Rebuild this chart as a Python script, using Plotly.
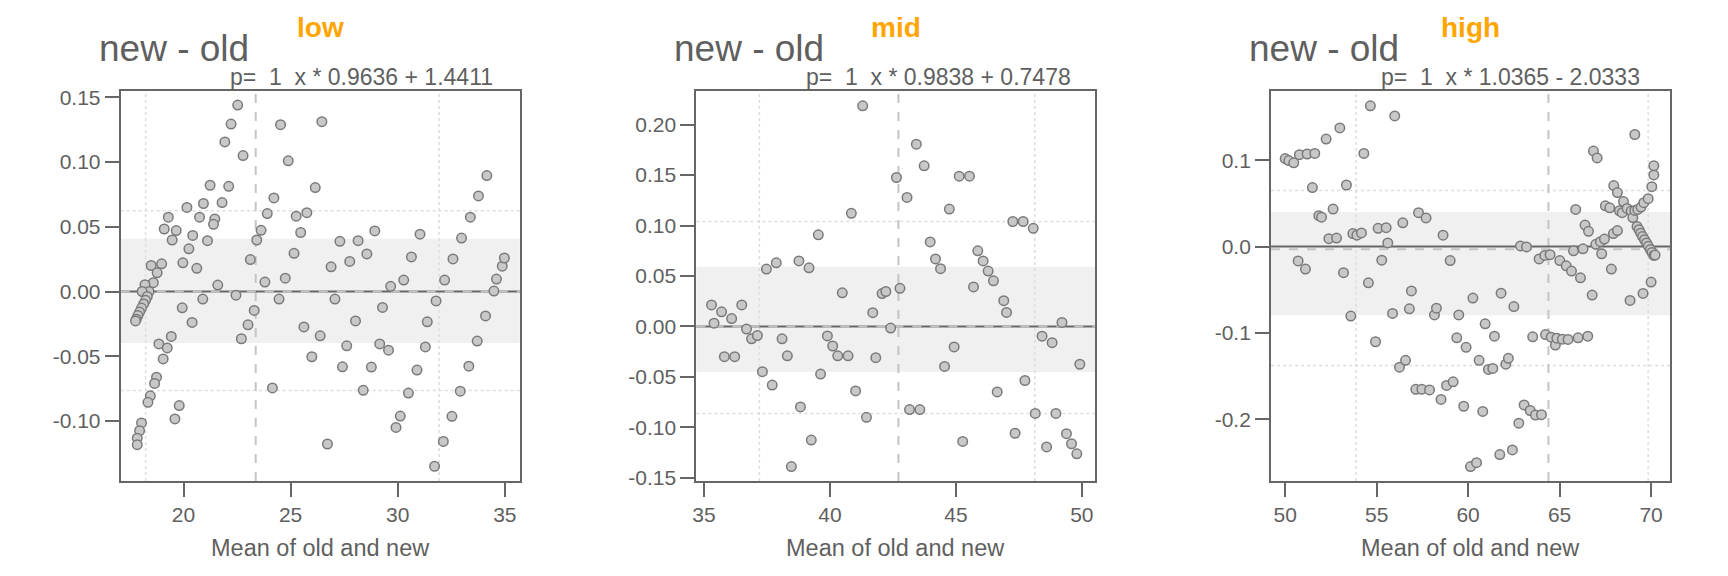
import plotly.graph_objects as go

# data (Bland-Altman style panels)
low_x = [22.53, 22.22, 21.93, 22.78, 24.53, 26.46, 24.89, 21.24, 22.11, 21.80,
         20.93, 20.16, 20.75, 21.46, 21.40, 19.29, 19.10, 19.66, 19.47, 20.43,
         20.25, 21.12, 19.97, 20.62, 21.60, 20.90, 19.94, 20.40, 18.49, 18.98,
         18.77, 18.59, 18.20, 18.39, 18.07, 18.31, 18.23, 18.14, 18.04, 17.95,
         17.87, 17.80, 17.76, 19.43, 18.85, 19.24, 19.05, 18.74, 18.65, 18.45,
         18.34, 18.04, 17.95, 17.84, 17.84, 19.80, 19.60, 22.45, 23.12, 23.30,
         23.01, 22.70, 23.42, 23.62, 23.91, 24.22, 23.80, 24.15, 24.46, 24.75,
         25.16, 25.26, 25.47, 25.76, 26.15, 25.62, 25.99, 26.38, 26.72, 26.89,
         27.07, 27.30, 27.76, 28.15, 28.56, 28.93, 28.03, 27.62, 27.42, 28.39,
         28.77, 29.16, 29.57, 29.29, 29.67, 30.28, 29.92, 30.12, 30.50, 30.90,
         30.64, 31.04, 31.29, 31.38, 31.79, 31.72, 32.13, 32.19, 32.53, 32.58,
         32.92, 32.98, 33.32, 33.39, 33.71, 33.77, 34.16, 34.10, 34.49, 34.61,
         34.88, 34.98]
low_y = [0.144, 0.1294, 0.1156, 0.105, 0.1289, 0.1312, 0.101, 0.0821, 0.0813, 0.0687,
         0.068, 0.065, 0.0574, 0.0561, 0.0519, 0.0574, 0.0483, 0.0471, 0.0398, 0.0433,
         0.033, 0.0393, 0.0222, 0.0179, 0.005, -0.0058, -0.0126, -0.0239, 0.0201, 0.0214,
         0.0144, 0.0068, 0.0053, 0.0, 0.0, -0.0038, -0.0068, -0.0096, -0.0128, -0.0159,
         -0.0186, -0.0214, -0.0227, -0.0347, -0.0405, -0.0436, -0.0521, -0.0662, -0.071, -0.0806,
         -0.0856, -0.1015, -0.1075, -0.1133, -0.1183, -0.0881, -0.0984, -0.0028, 0.0247, -0.0146,
         -0.0257, -0.0365, 0.0398, 0.0473, 0.0602, 0.0723, 0.0073, -0.0745, -0.0058, 0.0103,
         0.0295, 0.0582, 0.0456, 0.0609, 0.0803, -0.0274, -0.0504, -0.0342, -0.1178, 0.0191,
         -0.0058, 0.0388, 0.0232, 0.0393, 0.029, 0.0468, -0.0227, -0.042, -0.0582, -0.0763,
         -0.0584, -0.0405, -0.0453, -0.0123, 0.004, 0.0088, -0.105, -0.0962, -0.0785, -0.0607,
         0.0267, 0.0443, -0.0428, -0.0234, -0.0073, -0.135, -0.1158, 0.0088, -0.0964, 0.0252,
         -0.077, 0.0413, -0.0577, 0.0574, -0.0383, 0.0738, 0.0896, -0.0189, 0.0003, 0.0096,
         0.0196, 0.0259]

mid_x = [35.30, 35.40, 35.70, 36.10, 36.50, 35.81, 36.22, 36.69, 36.89, 37.12,
         37.32, 37.71, 37.48, 37.87, 38.10, 38.31, 38.47, 38.83, 38.77, 39.17,
         39.26, 39.54, 39.63, 39.90, 40.11, 40.31, 40.72, 40.49, 40.85, 41.02,
         41.30, 41.45, 41.70, 41.82, 42.07, 42.22, 42.41, 42.64, 42.78, 43.06,
         43.16, 43.57, 43.43, 43.74, 43.98, 44.19, 44.39, 44.55, 44.74, 44.93,
         45.13, 45.54, 45.27, 45.70, 45.87, 46.08, 46.28, 46.49, 46.64, 46.90,
         47.01, 47.26, 47.67, 48.07, 47.35, 47.74, 48.15, 48.42, 48.82, 48.97,
         48.60, 49.21, 49.39, 49.59, 49.80, 49.92]
mid_y = [0.0213, 0.0032, 0.0145, 0.0078, 0.0213, -0.030, -0.030, -0.0026, -0.0123, -0.009,
         -0.0449, -0.0581, 0.0568, 0.063, -0.0123, -0.0291, -0.1389, -0.0798, 0.0649, 0.0581,
         -0.1127, 0.0908, -0.0472, -0.0094, -0.0194, -0.0291, -0.0291, 0.0333, 0.1121, -0.064,
         0.2187, -0.0901, 0.0136, -0.031, 0.0326, 0.0346, -0.0016, 0.1476, 0.0378, 0.1279,
         -0.0824, -0.0824, 0.1806, 0.1592, 0.0837, 0.0669, 0.0572, -0.0397, 0.1163, -0.0203,
         0.1489, 0.1489, -0.114, 0.0391, 0.0749, 0.0649, 0.0549, 0.0452, -0.0649, 0.0255,
         0.0139, 0.104, 0.104, 0.0972, -0.1059, -0.0536, -0.0862, -0.0097, -0.0161, -0.0862,
         -0.1195, 0.0039, -0.1063, -0.1163, -0.1263, -0.0375]

high_x = [50.00, 50.20, 50.47, 50.78, 51.20, 51.62, 52.24, 52.99, 54.30, 54.66,
          55.99, 51.49, 53.35, 51.84, 51.99, 52.62, 52.39, 52.81, 53.70, 53.92,
          54.17, 50.71, 51.11, 53.19, 53.59, 54.55, 54.94, 55.08, 55.52, 55.61,
          55.28, 55.87, 56.43, 56.25, 56.58, 56.90, 56.79, 57.29, 57.70, 57.14,
          57.47, 57.89, 58.52, 58.16, 58.27, 58.63, 58.82, 59.18, 59.02, 59.38,
          59.49, 59.76, 59.89, 60.26, 60.13, 60.46, 60.60, 60.80, 60.93, 61.11,
          61.35, 61.44, 61.73, 61.80, 62.06, 62.20, 62.42, 62.50, 62.77, 62.86,
          63.19, 63.06, 63.39, 63.68, 64.01, 63.53, 63.88, 64.19, 64.48, 64.23,
          64.54, 64.77, 64.85, 65.15, 65.46, 66.01, 66.54, 65.01, 65.36, 65.65,
          66.14, 65.76, 66.28, 65.88, 66.39, 66.58, 66.78, 66.85, 67.05, 66.98,
          67.23, 67.45, 67.30, 67.50, 67.74, 67.83, 67.94, 68.16, 67.96, 68.16,
          68.27, 68.49, 68.42, 68.69, 68.85, 68.91, 69.00, 69.11, 69.11, 69.27,
          69.45, 69.60, 69.84, 69.23, 69.34, 69.43, 69.53, 69.64, 69.75, 69.85,
          69.96, 70.05, 70.15, 70.22, 69.56, 70.00, 70.04, 70.15, 70.15]
high_y = [0.1019, 0.0996, 0.097, 0.1064, 0.1072, 0.1079, 0.1245, 0.1374, 0.1079, 0.163,
          0.1513, 0.0683, 0.0713, 0.0358, 0.034, 0.0434, 0.0091, 0.0098, 0.0151, 0.0132,
          0.0158, -0.0166, -0.026, -0.0302, -0.0804, -0.0419, -0.1102, 0.0211, 0.0219, 0.0042,
          -0.0158, -0.0774, 0.0275, -0.1396, -0.1317, -0.0513, -0.0721, 0.0392, 0.0332, -0.1653,
          -0.1653, -0.166, -0.177, -0.0792, -0.0713, 0.0132, -0.1608, -0.1566, -0.0162, -0.1057,
          -0.0792, -0.1849, -0.1166, -0.0596, -0.2547, -0.2502, -0.1317, -0.1909, -0.0894, -0.1423,
          -0.1411, -0.1038, -0.2408, -0.054, -0.1362, -0.1294, -0.2355, -0.0694, -0.2045, 0.0008,
          -0.0004, -0.1834, -0.1898, -0.1951, -0.1947, -0.1045, -0.0143, -0.0102, -0.0094, -0.1019,
          -0.1049, -0.114, -0.106, -0.1072, -0.1075, -0.1057, -0.1038, -0.0162, -0.0223, -0.0283,
          -0.0362, -0.0049, -0.0026, 0.043, 0.0249, 0.0177, -0.0562, 0.1106, 0.1026, 0.0026,
          0.0057, 0.0087, -0.0083, 0.0472, 0.0449, -0.026, 0.0151, 0.0185, 0.0706, 0.0626,
          0.0415, 0.0521, 0.0392, 0.0442, -0.0623, 0.0411, 0.0336, 0.1298, 0.0419, 0.043,
          0.0457, 0.0509, 0.0555, 0.0234, 0.0196, 0.0155, 0.0117, 0.0079, 0.0042, 0.0004,
          -0.0034, -0.0068, -0.0102, -0.0098, -0.0543, -0.0411, 0.0694, 0.083, 0.0936]

panel_titles = ["low", "mid", "high"]
fit_labels = ["p=  1  x * 0.9636 + 1.4411",
              "p=  1  x * 0.9838 + 0.7478",
              "p=  1  x * 1.0365 - 2.0333"]

# reference lines per panel
band_lo = [-0.0398, -0.0452, -0.0796]
band_hi = [0.0408, 0.0591, 0.040]
limit_lo = [-0.0765, -0.0862, -0.1377]
limit_hi = [0.0624, 0.104, 0.0649]
x_q_lo = [18.23, 37.20, 53.88]
x_q_hi = [31.93, 48.13, 69.84]
x_median = [23.37, 42.72, 64.39]
mean_diff = [0.0, 0.0, -0.003]

x_ticks = [[20, 25, 30, 35], [35, 40, 45, 50], [50, 55, 60, 65, 70]]
y_ticks = [[-0.10, -0.05, 0.0, 0.05, 0.10, 0.15],
           [-0.15, -0.10, -0.05, 0.0, 0.05, 0.10, 0.15, 0.20],
           [-0.2, -0.1, 0.0, 0.1]]
y_tick_text = [["-0.10", "-0.05", "0.00", "0.05", "0.10", "0.15"],
               ["-0.15", "-0.10", "-0.05", "0.00", "0.05", "0.10", "0.15", "0.20"],
               ["-0.2", "-0.1", "0.0", "0.1"]]

x_ranges = [[17.07, 35.70], [34.70, 50.54], [49.23, 71.04]]
y_ranges = [[-0.1463, 0.1548], [-0.1531, 0.2332], [-0.2713, 0.18]]

# page has an 8px body margin, so the figure is drawn inside it
OFF = 8
W, H = 1728 - 2 * OFF, 576 - 2 * OFF
left_px = [117, 694, 1270]
plot_w = 400
top_px, bottom_px = 88, 487


def px_x(p):
    return (p - OFF) / W


def px_y(p):
    return 1 - (p - OFF) / H


AX = "#666666"
TXT = "#5f5f5f"

fig = go.Figure()
xs = [low_x, mid_x, high_x]
ys = [low_y, mid_y, high_y]

for i in range(3):
    n = "" if i == 0 else str(i + 1)
    fig.add_trace(
        go.Scatter(
            x=xs[i], y=ys[i], mode="markers",
            xaxis="x" + n, yaxis="y" + n,
            marker=dict(size=9.5, color="#c8c8c8",
                        line=dict(color="#7a7a7a", width=1.5)),
            showlegend=False, hoverinfo="skip",
        )
    )
    fig.layout["xaxis" + n] = dict(
        domain=[px_x(left_px[i]), px_x(left_px[i] + plot_w)], anchor="y" + n,
        range=x_ranges[i], tickvals=x_ticks[i],
        ticks="outside", ticklen=14, tickwidth=2, tickcolor=AX,
        showline=True, linecolor=AX, linewidth=2, mirror=True,
        showgrid=False, zeroline=False,
        tickfont=dict(size=21, color=TXT),
    )
    fig.layout["yaxis" + n] = dict(
        domain=[px_y(bottom_px), px_y(top_px)], anchor="x" + n,
        range=y_ranges[i], tickvals=y_ticks[i], ticktext=y_tick_text[i],
        ticks="outside", ticklen=14, tickwidth=2, tickcolor=AX,
        showline=True, linecolor=AX, linewidth=2, mirror=True,
        showgrid=False, zeroline=False,
        tickfont=dict(size=21, color=TXT),
    )

    xr, yr = "x" + n, "y" + n
    # grey band
    fig.add_shape(type="rect", xref=xr + " domain", yref=yr, x0=0, x1=1,
                  y0=band_lo[i], y1=band_hi[i], fillcolor="#f0f0f0",
                  line=dict(width=0), layer="below")
    # dotted limit lines
    for v in (limit_lo[i], limit_hi[i]):
        fig.add_shape(type="line", xref=xr + " domain", yref=yr, x0=0, x1=1,
                      y0=v, y1=v, line=dict(color="#dddddd", width=1.5, dash="dot"),
                      layer="below")
    for v in (x_q_lo[i], x_q_hi[i]):
        fig.add_shape(type="line", xref=xr, yref=yr + " domain", x0=v, x1=v,
                      y0=0, y1=1, line=dict(color="#dddddd", width=1.5, dash="dot"),
                      layer="below")
    fig.add_shape(type="line", xref=xr, yref=yr + " domain", x0=x_median[i],
                  x1=x_median[i], y0=0, y1=1,
                  line=dict(color="#c4c4c4", width=2, dash="dash"), layer="below")
    # zero line and mean difference
    fig.add_shape(type="line", xref=xr + " domain", yref=yr, x0=0, x1=1,
                  y0=0, y1=0, line=dict(color="#666666", width=2), layer="below")
    fig.add_shape(type="line", xref=xr + " domain", yref=yr, x0=0, x1=1,
                  y0=mean_diff[i], y1=mean_diff[i],
                  line=dict(color="#c4c4c4", width=2, dash="dash"), layer="below")

    cx = px_x(left_px[i] + plot_w / 2)
    fig.add_annotation(text=panel_titles[i], xref="paper", yref="paper",
                       x=cx, y=px_y(23), xanchor="center", yanchor="middle",
                       showarrow=False,
                       font=dict(size=28, color="#FFA500", weight="bold"))
    fig.add_annotation(text="new - old", xref="paper", yref="paper",
                       x=px_x(left_px[i] - 24), y=px_y(44), xanchor="left",
                       yanchor="middle", showarrow=False,
                       font=dict(size=37, color=TXT))
    fig.add_annotation(text=fit_labels[i], xref="paper", yref="paper",
                       x=px_x(left_px[i] + 108), y=px_y(74), xanchor="left",
                       yanchor="middle", showarrow=False,
                       font=dict(size=23, color=TXT))
    fig.add_annotation(text="Mean of old and new", xref="paper", yref="paper",
                       x=cx, y=px_y(556), xanchor="center", yanchor="middle",
                       showarrow=False, font=dict(size=23.5, color=TXT))

fig.update_layout(
    width=W, height=H,
    margin=dict(l=0, r=0, t=0, b=0),
    paper_bgcolor="white", plot_bgcolor="white",
    font=dict(family="Arial, Liberation Sans, sans-serif", color=TXT),
)

fig.write_html("out.html")
